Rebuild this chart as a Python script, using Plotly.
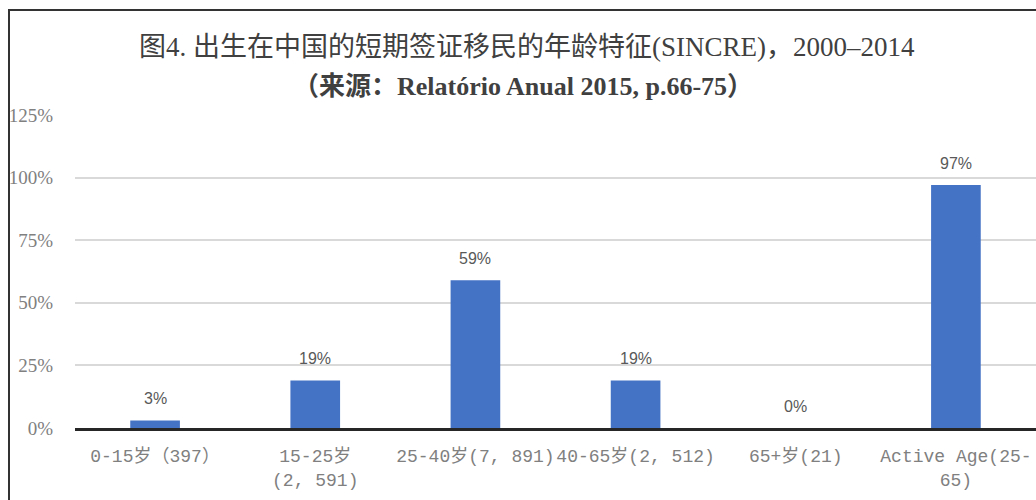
import plotly.graph_objects as go

categories = ["0-15岁（397）", "15-25岁<br>(2, 591)", "25-40岁(7, 891)", "40-65岁(2, 512)", "65+岁(21)", "Active Age(25-<br>65)"]
values = [0.03, 0.19, 0.59, 0.19, 0.00, 0.97]
value_labels = ["3%", "19%", "59%", "19%", "0%", "97%"]
y_ticks = [0, 0.25, 0.5, 0.75, 1.0, 1.25]
y_tick_labels = ["0%", "25%", "50%", "75%", "100%", "125%"]
title_line1 = "图4. 出生在中国的短期签证移民的年龄特征(SINCRE)，2000–2014"
title_line2 = "（来源：Relatório Anual 2015, p.66-75）"

W, H = 1036, 500
ml, mr, mt, mb = 75, 0, 115, 72

fig = go.Figure()
fig.add_trace(go.Bar(
    x=list(range(len(categories))), y=values,
    marker=dict(color="#4472C4", line=dict(width=0)),
    width=0.31, hoverinfo="skip",
))

for i, (v, t) in enumerate(zip(values, value_labels)):
    fig.add_annotation(x=i, y=v, text=t, showarrow=False, yanchor="bottom", yshift=11,
                       font=dict(family="Liberation Sans, Arial, sans-serif", size=16, color="#595959"))

ph = H - mt - mb
pw = W - ml - mr
def px_to_paper_x(px):
    return (px - ml) / pw
def py_to_paper_y(py):
    return (H - mb - py) / ph

# outer frame
fig.add_shape(type="rect", xref="paper", yref="paper",
              x0=px_to_paper_x(9), x1=px_to_paper_x(1060),
              y0=py_to_paper_y(540), y1=py_to_paper_y(10),
              line=dict(color="#333333", width=2), fillcolor="rgba(0,0,0,0)", layer="above")

fig.add_annotation(xref="paper", yref="paper", x=px_to_paper_x(527), y=py_to_paper_y(47),
                   text=title_line1, showarrow=False, xanchor="center", yanchor="middle",
                   font=dict(family="Liberation Serif, Noto Sans CJK SC, serif", size=27, color="#404040"))
fig.add_annotation(xref="paper", yref="paper", x=px_to_paper_x(523), y=py_to_paper_y(87),
                   text="<b>" + title_line2 + "</b>", showarrow=False, xanchor="center", yanchor="middle",
                   font=dict(family="Liberation Serif, Noto Sans CJK SC, serif", size=26, color="#404040"))

fig.update_layout(
    width=W, height=H,
    margin=dict(l=ml, r=mr, t=mt, b=mb, pad=0),
    paper_bgcolor="white", plot_bgcolor="white",
    showlegend=False,
    bargap=0.69,
)
fig.update_xaxes(
    tickmode="array", tickvals=list(range(len(categories))), ticktext=categories,
    range=[-0.5, len(categories) - 0.5], tickangle=0,
    showline=True, linecolor="#262626", linewidth=2.5, showgrid=False,
    ticks="outside", ticklen=10, tickcolor="rgba(0,0,0,0)",
    tickfont=dict(family="Liberation Mono, Noto Sans CJK SC, monospace", size=18, color="#808080"),
    fixedrange=True,
)
fig.update_yaxes(
    range=[0, 1.25], tickmode="array", tickvals=y_ticks, ticktext=y_tick_labels,
    showgrid=True, gridcolor="#d9d9d9", gridwidth=1.5, zeroline=False, showline=False,
    ticks="outside", ticklen=17, tickcolor="rgba(0,0,0,0)",
    tickfont=dict(family="Liberation Serif, serif", size=19, color="#808080"),
    fixedrange=True,
)

fig.write_html("out.html", config={"displayModeBar": False},
               post_script="document.body.style.margin='0';")
